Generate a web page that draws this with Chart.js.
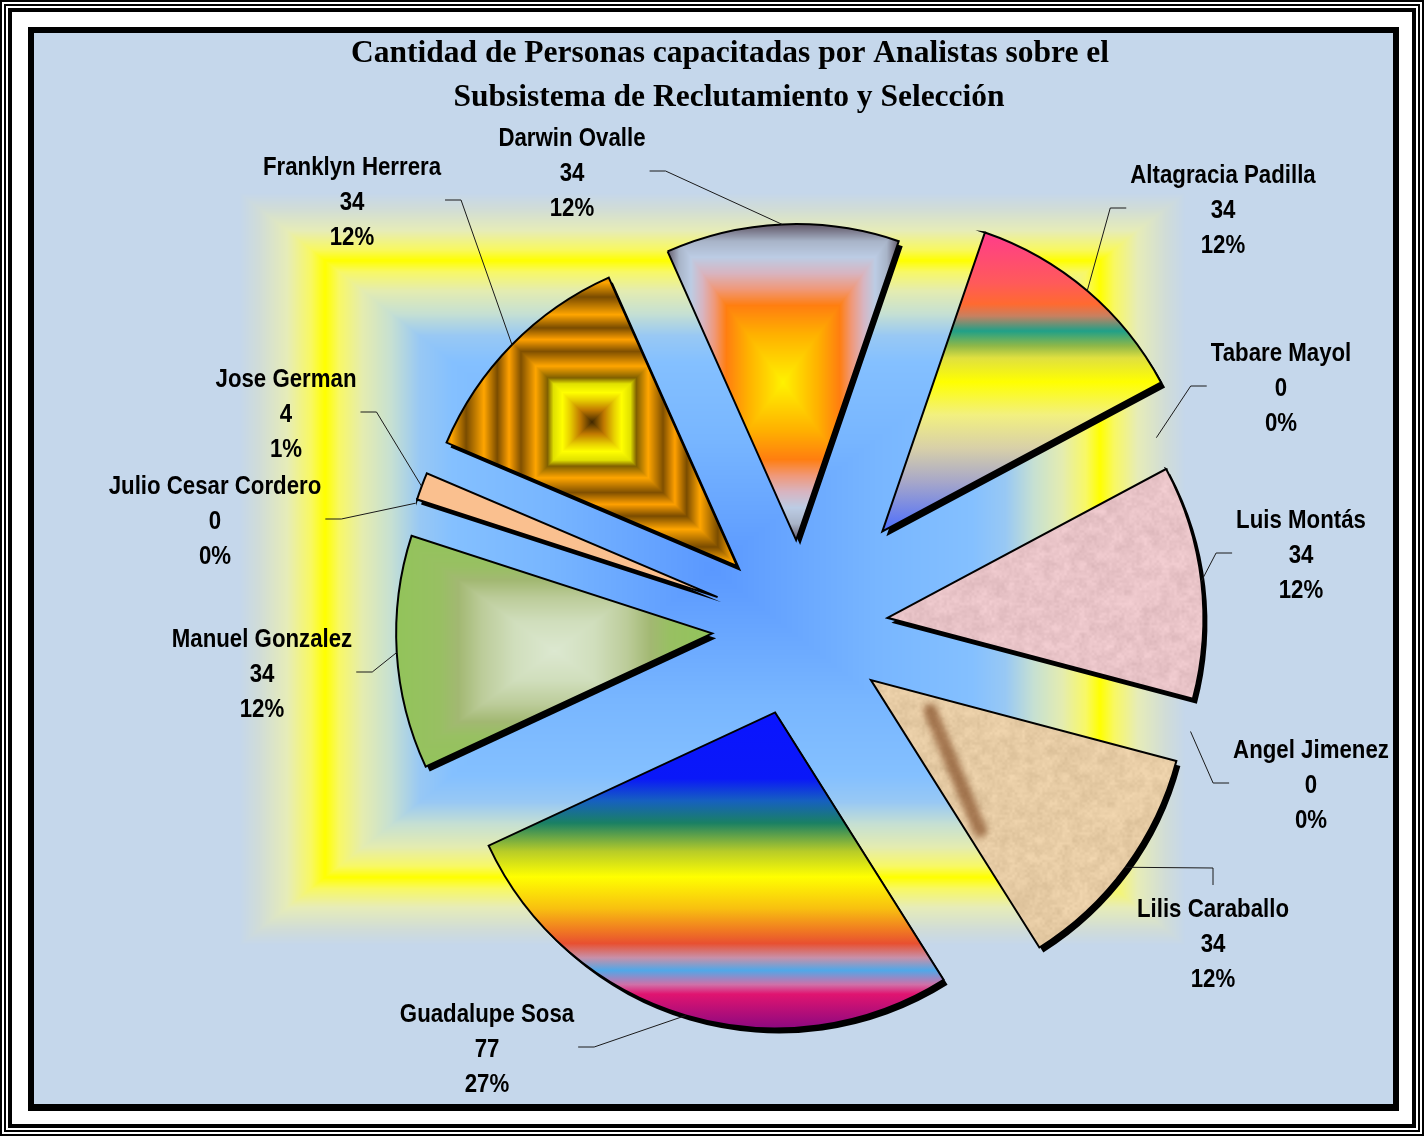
<!DOCTYPE html>
<html>
<head>
<meta charset="utf-8">
<title>Cantidad de Personas capacitadas por Analistas</title>
<script src="https://cdn.jsdelivr.net/npm/chart.js@4.4.1/dist/chart.umd.min.js"></script>
<style>
  html, body { margin: 0; padding: 0; background: #fff; }
  canvas { display: block; }
</style>
</head>
<body>
<canvas id="pieChart" width="1424" height="1136"></canvas>
<script>
// Slices in drawing order, clockwise from the top one
const analysts = ['Darwin Ovalle', 'Altagracia Padilla', 'Tabare Mayol', 'Luis Montás', 'Angel Jimenez',
  'Lilis Caraballo', 'Guadalupe Sosa', 'Manuel Gonzalez', 'Julio Cesar Cordero', 'Jose German', 'Franklyn Herrera'];
const trained = [34, 34, 0, 34, 0, 34, 77, 34, 0, 4, 34];

const titleLines = ['Cantidad de Personas capacitadas por Analistas sobre el', 'Subsistema de Reclutamiento y Selección'];

// where each data label sits (centre of the middle line)
const labelSpots = [[572, 174], [1223, 211], [1281, 389], [1301, 556], [1311, 786],
  [1213, 945], [487, 1050], [262, 675], [215, 522], [286, 415], [352, 203]];

// how far each slice is pulled out of the pie, px
const explode = [88, 127, 88, 88, 88, 88, 88, 88, 88, 88, 88];

const total = trained.reduce((a, b) => a + b, 0);
const pct = v => Math.round(v / total * 100) + '%';

const RADIUS = 316;
// Liberation Sans squeezed sideways stands in for Arial Narrow
const LABEL_FONT = 'bold 25px "Liberation Sans", Arial, sans-serif';
const LABEL_SQUEEZE = 0.89;
const TITLE_FONT = 'bold 31.5px "Liberation Serif", "Times New Roman", serif';

// fills, roughly like the office textures of the original
const sliceFills = [
  { kind: 'box', stops: [[0, '#FFF200'], [0.3, '#FFB000'], [0.48, '#FF7E10'], [0.58, '#F09878'], [0.68, '#D8B4C0'],
    [0.78, '#BCCCE4'], [0.88, '#A8B4C8'], [1, '#554858']] },
  { kind: 'linear', stops: [[0, '#FF3C8C'], [0.17, '#FF5A5A'], [0.24, '#FF6A30'], [0.28, '#C88060'], [0.33, '#20A088'],
    [0.38, '#90B848'], [0.42, '#E0E040'], [0.5, '#FFFF00'], [0.61, '#F2F080'], [0.72, '#D8D0A8'], [0.83, '#A8A8C8'], [1, '#4A6CFF']] },
  null,
  { kind: 'paper', base: '#E8C3C7' },
  null,
  { kind: 'paper', base: '#E6CBA4', streak: true },
  { kind: 'linear', stops: [[0, '#0A14FF'], [0.21, '#0A18F8'], [0.28, '#1660C0'], [0.35, '#1A8064'], [0.44, '#B8CC28'],
    [0.52, '#FFFF00'], [0.62, '#F8C010'], [0.69, '#F07822'], [0.73, '#E85030'], [0.775, '#C890A8'], [0.815, '#50A8E8'],
    [0.86, '#D070A8'], [0.89, '#E01470'], [1, '#8A0880']] },
  { kind: 'box', stops: [[0, '#DCE8D0'], [0.25, '#D0DEBC'], [0.45, '#BCCC9A'], [0.6, '#A2B872'], [0.72, '#98C062'], [1, '#92C45A']] },
  null,
  { kind: 'solid', color: '#FAC08F' },
  { kind: 'box', stops: [[0, '#402800'], [0.08, '#C07800'], [0.15, '#E8D000'], [0.2, '#FFFF00'], [0.26, '#E0E000'],
    [0.3, '#806000'], [0.38, '#FFA500'], [0.48, '#805000'], [0.56, '#FFA000'], [0.64, '#7A4C00'], [0.73, '#FFA500'],
    [0.85, '#7A4C00'], [0.95, '#FFA500'], [1, '#C07800']] }
];

const plotAreaStops = [[0, '#5A98FF'], [0.35, '#78B6FF'], [0.55, '#84C0FF'], [0.62, '#98C8F4'], [0.68, '#C6E0D2'],
  [0.74, '#E4ECB0'], [0.79, '#F8F866'], [0.82, '#FFFF00'], [0.85, '#F8F862'], [0.9, '#E6ECB8'], [0.96, '#D0DCD8'], [1, '#C5D7EB']];

function hexRgb(h) {
  const n = parseInt(h.slice(1), 16);
  return [(n >> 16) & 255, (n >> 8) & 255, n & 255];
}

function sample(st, t) {
  if (t <= st[0][0]) return st[0][1];
  for (let i = 1; i < st.length; i++) {
    if (t <= st[i][0]) {
      const a = st[i - 1], b = st[i];
      const f = (t - a[0]) / (b[0] - a[0]);
      return [a[1][0] + (b[1][0] - a[1][0]) * f, a[1][1] + (b[1][1] - a[1][1]) * f, a[1][2] + (b[1][2] - a[1][2]) * f];
    }
  }
  return st[st.length - 1][1];
}

// rectangular "from centre" gradient
function boxCanvas(w, h, stops) {
  const c = document.createElement('canvas');
  c.width = w; c.height = h;
  const g = c.getContext('2d');
  const img = g.createImageData(w, h);
  const st = stops.map(s => [s[0], hexRgb(s[1])]);
  for (let y = 0; y < h; y++) {
    for (let x = 0; x < w; x++) {
      const t = Math.max(Math.abs(x + 0.5 - w / 2) / (w / 2), Math.abs(y + 0.5 - h / 2) / (h / 2));
      const col = sample(st, t);
      const i = (y * w + x) * 4;
      img.data[i] = col[0]; img.data[i + 1] = col[1]; img.data[i + 2] = col[2]; img.data[i + 3] = 255;
    }
  }
  g.putImageData(img, 0, 0);
  return c;
}

function hash(ix, iy) {
  const s = Math.sin(ix * 127.1 + iy * 311.7) * 43758.5453;
  return s - Math.floor(s);
}
function vnoise(x, y) {
  const ix = Math.floor(x), iy = Math.floor(y);
  const fx = x - ix, fy = y - iy;
  const a = hash(ix, iy), b = hash(ix + 1, iy), c = hash(ix, iy + 1), d = hash(ix + 1, iy + 1);
  const ux = fx * fx * (3 - 2 * fx), uy = fy * fy * (3 - 2 * fy);
  return a + (b - a) * ux + (c - a) * uy + (a - b - c + d) * ux * uy;
}

// mottled paper look
function paperCanvas(w, h, base, streak) {
  const c = document.createElement('canvas');
  c.width = w; c.height = h;
  const g = c.getContext('2d');
  const img = g.createImageData(w, h);
  const rgb = hexRgb(base);
  for (let y = 0; y < h; y++) {
    for (let x = 0; x < w; x++) {
      const n = 0.55 * vnoise(x / 9, y / 9) + 0.45 * vnoise(x / 2.5, y / 2.5) - 0.5;
      const i = (y * w + x) * 4;
      img.data[i] = rgb[0] + n * 26; img.data[i + 1] = rgb[1] + n * 26; img.data[i + 2] = rgb[2] + n * 26;
      img.data[i + 3] = 255;
    }
  }
  g.putImageData(img, 0, 0);
  if (streak) {
    g.filter = 'blur(3px)';
    g.strokeStyle = 'rgba(118, 60, 22, 0.6)';
    g.lineWidth = 14;
    g.lineCap = 'round';
    g.beginPath();
    g.moveTo(w * 0.2, h * 0.12);
    g.lineTo(w * 0.36, h * 0.56);
    g.stroke();
  }
  return c;
}

function sliceBox(arc, r) {
  const s = arc.startAngle, e = arc.endAngle;
  const pts = [[arc.x, arc.y], [arc.x + r * Math.cos(s), arc.y + r * Math.sin(s)], [arc.x + r * Math.cos(e), arc.y + r * Math.sin(e)]];
  for (let k = -4; k <= 8; k++) {
    const a = k * Math.PI / 2;
    if (a > s && a < e) pts.push([arc.x + r * Math.cos(a), arc.y + r * Math.sin(a)]);
  }
  const xs = pts.map(p => p[0]), ys = pts.map(p => p[1]);
  const x0 = Math.floor(Math.min(...xs)) - 2, y0 = Math.floor(Math.min(...ys)) - 2;
  const x1 = Math.ceil(Math.max(...xs)) + 2, y1 = Math.ceil(Math.max(...ys)) + 2;
  return { x0, y0, w: x1 - x0, h: y1 - y0 };
}

function makeFill(ctx, arc, spec) {
  const b = sliceBox(arc, arc.outerRadius);
  if (spec.kind === 'solid') return spec.color;
  if (spec.kind === 'linear') {
    const grad = ctx.createLinearGradient(0, b.y0 + 2, 0, b.y0 + b.h - 2);
    spec.stops.forEach(s => grad.addColorStop(s[0], s[1]));
    return grad;
  }
  const tex = spec.kind === 'box' ? boxCanvas(b.w, b.h, spec.stops) : paperCanvas(b.w, b.h, spec.base, spec.streak);
  const pattern = ctx.createPattern(tex, 'no-repeat');
  pattern.setTransform(new DOMMatrix([1, 0, 0, 1, b.x0, b.y0]));
  return pattern;
}

let plotAreaTex = null;
const fillCache = [];

const explodedPie = {
  id: 'explodedPie',
  beforeDraw(chart) {
    const ctx = chart.ctx;
    const W = chart.width, H = chart.height;
    ctx.save();
    ctx.fillStyle = '#fff';
    ctx.fillRect(0, 0, W, H);
    ctx.strokeStyle = '#000';
    [[0, 2], [4, 2], [8, 4]].forEach(([inset, lw]) => {
      ctx.lineWidth = lw;
      ctx.strokeRect(inset + lw / 2, inset + lw / 2, W - 2 * inset - lw, H - 2 * inset - lw);
    });
    ctx.fillStyle = '#000';
    ctx.fillRect(28, 27, 1371, 1084);
    ctx.fillStyle = '#C5D7EB';
    ctx.fillRect(34, 33, 1359, 1071);
    if (!plotAreaTex) plotAreaTex = boxCanvas(945, 752, plotAreaStops);
    ctx.drawImage(plotAreaTex, 240, 193);

    ctx.fillStyle = '#000';
    ctx.font = TITLE_FONT;
    ctx.textAlign = 'center';
    ctx.textBaseline = 'middle';
    ctx.fillText(titleLines[0], 730, 54);
    ctx.fillText(titleLines[1], 729, 98);
    ctx.restore();
  },
  beforeDatasetsDraw(chart) {
    // pull each slice out along its own middle angle
    const area = chart.chartArea;
    const cx = (area.left + area.right) / 2, cy = (area.top + area.bottom) / 2;
    chart.getDatasetMeta(0).data.forEach((arc, i) => {
      const mid = (arc.startAngle + arc.endAngle) / 2;
      arc.x = cx + Math.cos(mid) * explode[i];
      arc.y = cy + Math.sin(mid) * explode[i];
      if (arc.circumference && sliceFills[i]) {
        if (!fillCache[i]) fillCache[i] = makeFill(chart.ctx, arc, sliceFills[i]);
        arc.options.backgroundColor = fillCache[i];
      }
    });
  },
  beforeDatasetDraw(chart) {
    // black drop shadow: the same arcs drawn solid black, nudged down-right
    const ctx = chart.ctx;
    ctx.save();
    ctx.translate(4, 5);
    chart.getDatasetMeta(0).data.forEach(arc => {
      const o = arc.options;
      const keep = [o.backgroundColor, o.borderWidth];
      o.backgroundColor = '#000';
      o.borderWidth = 0;
      arc.draw(ctx);
      [o.backgroundColor, o.borderWidth] = keep;
    });
    ctx.restore();
  },
  afterDatasetsDraw(chart) {
    const ctx = chart.ctx;
    const meta = chart.getDatasetMeta(0);
    ctx.save();
    ctx.font = LABEL_FONT;
    ctx.textAlign = 'center';
    ctx.textBaseline = 'middle';
    meta.data.forEach((arc, i) => {
      const mid = (arc.startAngle + arc.endAngle) / 2;
      const ax = arc.x + Math.cos(mid) * arc.outerRadius, ay = arc.y + Math.sin(mid) * arc.outerRadius;
      const lines = [analysts[i], String(trained[i]), pct(trained[i])];
      const [cx, cy] = labelSpots[i];
      const w = Math.max(...lines.map(t => ctx.measureText(t).width)) * LABEL_SQUEEZE;
      const left = cx - w / 2, right = cx + w / 2, top = cy - 52, bottom = cy + 52;

      let p0, p1;
      if (ax < left - 25) { p0 = [left - 4, cy - 3]; p1 = [left - 20, cy - 3]; }
      else if (ax > right + 25) { p0 = [right + 4, cy - 3]; p1 = [right + 20, cy - 3]; }
      else if (ay < top) { p0 = [cx, top - 8]; p1 = [cx, top - 25]; }
      else { p0 = [cx, bottom + 8]; p1 = [cx, bottom + 25]; }
      ctx.strokeStyle = '#1a1a1a';
      ctx.lineWidth = 1;
      ctx.beginPath();
      ctx.moveTo(p0[0], p0[1]);
      ctx.lineTo(p1[0], p1[1]);
      ctx.lineTo(ax, ay);
      ctx.stroke();

      ctx.fillStyle = '#000';
      lines.forEach((t, k) => {
        ctx.save();
        ctx.translate(cx, cy + (k - 1) * 35);
        ctx.scale(LABEL_SQUEEZE, 1);
        ctx.fillText(t, 0, 0);
        ctx.restore();
      });
    });
    ctx.restore();
  }
};

new Chart(document.getElementById('pieChart'), {
  type: 'pie',
  data: {
    labels: analysts,
    datasets: [{
      data: trained,
      backgroundColor: ['#FFB000', '#FFFF60', '#cccccc', '#E8C3C7', '#cccccc', '#E6CBA4', '#F8C010', '#A2B872', '#cccccc', '#FAC08F', '#FFA500'],
      borderColor: '#000',
      borderWidth: 2,
      borderJoinStyle: 'miter',
      hoverOffset: 0,
      clip: false
    }]
  },
  options: {
    responsive: false,
    animation: false,
    events: [],
    rotation: -24,
    radius: RADIUS,
    layout: { padding: { left: 176, top: 120, right: 0, bottom: 0 } },
    plugins: {
      legend: { display: false },
      tooltip: { enabled: false },
      title: { display: false }
    }
  },
  plugins: [explodedPie]
});
</script>
</body>
</html>
